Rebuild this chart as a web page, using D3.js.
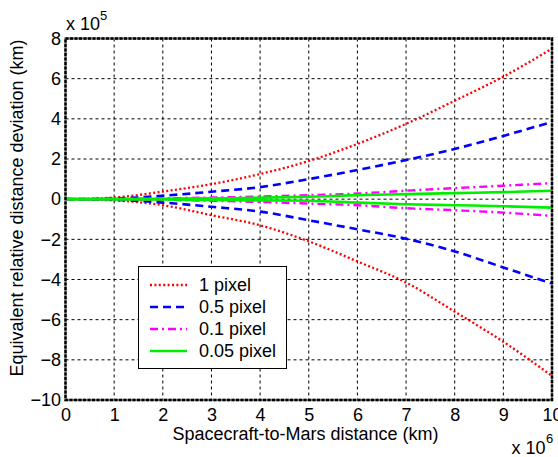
<!DOCTYPE html>
<html>
<head>
<meta charset="utf-8">
<script src="https://cdn.jsdelivr.net/npm/d3@7"></script>
<style>
  html, body { margin: 0; padding: 0; background: #fff; }
  svg { display: block; }
  text { font-family: "Liberation Sans", Arial, sans-serif; fill: #000; }
</style>
</head>
<body>
<svg id="chart" width="558" height="457"></svg>
<script>
// Spacecraft-to-Mars distance (x 10^6 km)
const distance = [0, 1, 2, 3, 4, 5, 6, 7, 8, 9, 10];

// Equivalent relative distance deviation (x 10^5 km), upper / lower envelopes
const pixel1Upper  = [0, 0.08, 0.38, 0.75, 1.25, 1.9, 2.75, 3.75, 4.9, 6.1, 7.5];
const pixel1Lower  = [0, -0.06, -0.3, -0.8, -1.3, -2.1, -3.1, -4.15, -5.6, -7.1, -8.8];
const pixel05Upper = [0, 0.03, 0.17, 0.37, 0.6, 1.0, 1.45, 1.95, 2.5, 3.15, 3.85];
const pixel05Lower = [0, -0.03, -0.17, -0.38, -0.62, -1.05, -1.5, -1.97, -2.6, -3.4, -4.2];
const pixel01Upper = [0, 0.01, 0.04, 0.08, 0.13, 0.2, 0.28, 0.42, 0.55, 0.67, 0.8];
const pixel01Lower = [0, -0.01, -0.04, -0.08, -0.14, -0.22, -0.3, -0.45, -0.55, -0.67, -0.83];
const pixel005Upper = [0, 0.0, 0.02, 0.04, 0.07, 0.12, 0.2, 0.25, 0.3, 0.35, 0.42];
const pixel005Lower = [0, 0.0, -0.02, -0.04, -0.06, -0.08, -0.17, -0.25, -0.3, -0.35, -0.42];

const seriesNames = ["1 pixel", "0.5 pixel", "0.1 pixel", "0.05 pixel"];
const xTicks = [0, 1, 2, 3, 4, 5, 6, 7, 8, 9, 10];
const yTicks = [-10, -8, -6, -4, -2, 0, 2, 4, 6, 8];

const styles = [
  { color: "#ff0000", width: 2.3, dash: "2,2.4" },
  { color: "#0000ff", width: 2.6, dash: "8,5" },
  { color: "#ff00ff", width: 2.4, dash: "8,4,2,4" },
  { color: "#00ee00", width: 2.6, dash: null }
];

const series = [
  [pixel1Upper, pixel1Lower],
  [pixel05Upper, pixel05Lower],
  [pixel01Upper, pixel01Lower],
  [pixel005Upper, pixel005Lower]
];

const svg = d3.select("#chart");
const plotLeft = 65.5, plotRight = 552, plotTop = 38.5, plotBottom = 400;
const fontPx = "18px";

const x = d3.scaleLinear().domain([0, 10]).range([plotLeft, plotRight]);
const y = d3.scaleLinear().domain([-10, 8]).range([plotBottom, plotTop]);

// grid
const grid = svg.append("g");
grid.selectAll("line.vx").data(xTicks.slice(1, -1)).join("line")
  .attr("x1", d => x(d)).attr("x2", d => x(d))
  .attr("y1", plotTop).attr("y2", plotBottom)
  .attr("stroke", "#000").attr("stroke-width", 1).attr("stroke-dasharray", "3,3");
grid.selectAll("line.hy").data(yTicks.slice(1, -1)).join("line")
  .attr("x1", plotLeft).attr("x2", plotRight)
  .attr("y1", d => y(d)).attr("y2", d => y(d))
  .attr("stroke", "#000").attr("stroke-width", 1).attr("stroke-dasharray", "3,3");

// axes (labels only; frame drawn separately)
const xAxis = d3.axisBottom(x).tickValues(xTicks).tickSize(0).tickPadding(8).tickFormat(d3.format("d"));
const yAxis = d3.axisLeft(y).tickValues(yTicks).tickSize(0).tickPadding(4.5).tickFormat(d3.format("d"));

const gx = svg.append("g").attr("transform", `translate(0,${plotBottom})`).call(xAxis);
const gy = svg.append("g").attr("transform", `translate(${plotLeft},0)`).call(yAxis);
[gx, gy].forEach(g => {
  g.select(".domain").remove();
  g.selectAll("text").style("font-size", fontPx).style("font-family", "'Liberation Sans', Arial, sans-serif");
});

// data lines
const line = d3.line()
  .x((d, i) => x(distance[i]))
  .y(d => y(d))
  .curve(d3.curveMonotoneX);
const plot = svg.append("g");
series.forEach((pair, k) => {
  const st = styles[k];
  pair.forEach(vals => {
    plot.append("path")
      .attr("d", line(vals))
      .attr("fill", "none")
      .attr("stroke", st.color)
      .attr("stroke-width", st.width)
      .attr("stroke-dasharray", st.dash)
      .attr("stroke-linejoin", "round");
  });
});

// frame
svg.append("rect")
  .attr("x", plotLeft).attr("y", plotTop)
  .attr("width", plotRight - plotLeft).attr("height", plotBottom - plotTop)
  .attr("fill", "none").attr("stroke", "#777").attr("stroke-width", 2.4);
svg.append("rect")
  .attr("x", plotLeft).attr("y", plotTop)
  .attr("width", plotRight - plotLeft).attr("height", plotBottom - plotTop)
  .attr("fill", "none").attr("stroke", "#000").attr("stroke-width", 2.4)
  .attr("stroke-dasharray", "3,1.5");

// exponent labels
svg.append("text").attr("x", 66).attr("y", 29.5).style("font-size", fontPx).text("x 10");
svg.append("text").attr("x", 100).attr("y", 20).style("font-size", "13px").text("5");
svg.append("text").attr("x", 511.5).attr("y", 454).style("font-size", fontPx).text("x 10");
svg.append("text").attr("x", 546).attr("y", 443).style("font-size", "13px").text("6");

// axis titles
svg.append("text")
  .attr("x", 305.5).attr("y", 440)
  .attr("text-anchor", "middle").style("font-size", fontPx)
  .text("Spacecraft-to-Mars distance (km)");
svg.append("text")
  .attr("transform", "translate(22.5,208) rotate(-90)")
  .attr("text-anchor", "middle").style("font-size", fontPx)
  .text("Equivalent relative distance deviation (km)");

// legend
const lg = svg.append("g");
lg.append("rect")
  .attr("x", 138.5).attr("y", 266.5).attr("width", 148).attr("height", 102)
  .attr("fill", "#fff").attr("stroke", "#000").attr("stroke-width", 1);
const rowY = [285, 307, 329, 351];
seriesNames.forEach((name, k) => {
  const st = styles[k];
  lg.append("line")
    .attr("x1", 150).attr("x2", 187)
    .attr("y1", rowY[k]).attr("y2", rowY[k])
    .attr("stroke", st.color).attr("stroke-width", st.width)
    .attr("stroke-dasharray", st.dash);
  lg.append("text")
    .attr("x", 199).attr("y", rowY[k]).attr("dy", "0.36em")
    .style("font-size", fontPx).text(name);
});
</script>
</body>
</html>
